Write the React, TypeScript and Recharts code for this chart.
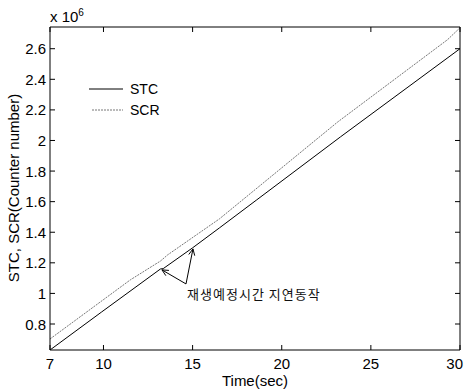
import React from 'react';
import { LineChart, Line, XAxis, YAxis, ReferenceLine, ReferenceDot } from 'recharts';

// ---- data (counter numbers vs. time in seconds) ----
const stcTime = [7, 9.9, 13.2, 13.35, 15.0, 16.5, 18.6, 23.3, 30];
const stcCount = [630000, 879000, 1160000, 1162000, 1298000, 1428000, 1612000, 2024000, 2600000];
const scrTime = [7, 11.5, 13.2, 13.6, 16.5, 23.15, 29.3, 30];
const scrCount = [702000, 1088000, 1212000, 1252000, 1487000, 2122000, 2659000, 2737000];

const xTicks = [7, 10, 15, 20, 25, 30];
const yTicks = [800000, 1000000, 1200000, 1400000, 1600000, 1800000, 2000000, 2200000, 2400000, 2600000];
const xDomain = [7, 30];
const yDomain = [630000, 2742000];

const seriesNames = ['STC', 'SCR'];
const xLabel = 'Time(sec)';
const yLabel = 'STC, SCR(Counter number)';
const annotationText = '재생예정시간 지연동작';
const annotationAnchor = { t: 14.69, v: 963000 };
const arrowFrom = { t: 14.63, v: 1062000 };
const arrowTips = [
  { t: 13.28, v: 1154000 },
  { t: 15.02, v: 1291000 },
];

const stcData = stcTime.map((t, i) => ({ t, v: stcCount[i] }));
const scrData = scrTime.map((t, i) => ({ t, v: scrCount[i] }));

const FONT = '"Liberation Sans", Arial, Helvetica, sans-serif';
const W = 464;
const H = 392;

const fmtY = (v: number) => String(Number((v / 1e6).toFixed(1)));

const BottomTick = (props: any) => {
  const { x, y, payload, index } = props;
  const axisY = y;
  const last = index === xTicks.length - 1;
  return (
    <g>
      <line x1={x} y1={axisY} x2={x} y2={axisY - 5} stroke="#000" strokeWidth={1} />
      <text
        x={last ? x + 3 : x}
        y={axisY + 19}
        textAnchor={last ? 'end' : 'middle'}
        fontSize={15}
        fontFamily={FONT}
        fill="#000"
      >
        {payload.value}
      </text>
    </g>
  );
};

const TopTick = (props: any) => {
  const { x, y } = props;
  return <line x1={x} y1={y} x2={x} y2={y + 5} stroke="#000" strokeWidth={1} />;
};

const LeftTick = (props: any) => {
  const { x, y, payload } = props;
  return (
    <g>
      <line x1={x} y1={y} x2={x + 5} y2={y} stroke="#000" strokeWidth={1} />
      <text x={x - 4} y={y + 5.5} textAnchor="end" fontSize={15} fontFamily={FONT} fill="#000">
        {fmtY(payload.value)}
      </text>
    </g>
  );
};

const RightTick = (props: any) => {
  const { x, y } = props;
  return <line x1={x} y1={y} x2={x - 5} y2={y} stroke="#000" strokeWidth={1} />;
};

const ArrowShape = (props: any) => {
  const { x1, y1, x2, y2 } = props;
  const ang = Math.atan2(y2 - y1, x2 - x1);
  const len = 7;
  const spread = 0.45;
  const ax = x2 - len * Math.cos(ang - spread);
  const ay = y2 - len * Math.sin(ang - spread);
  const bx = x2 - len * Math.cos(ang + spread);
  const by = y2 - len * Math.sin(ang + spread);
  return (
    <g>
      <line x1={x1} y1={y1} x2={x2} y2={y2} stroke="#000" strokeWidth={1} />
      <polyline points={`${ax},${ay} ${x2},${y2} ${bx},${by}`} fill="none" stroke="#000" strokeWidth={1} />
    </g>
  );
};

const AnnotationText = (props: any) => {
  const { cx, cy } = props;
  return (
    <text
      x={cx}
      y={cy}
      fontSize={13}
      letterSpacing={1}
      fontFamily={'"Noto Sans CJK KR", sans-serif'}
      fill="#111"
    >
      {annotationText}
    </text>
  );
};

export default function App() {
  return (
    <div style={{ position: 'absolute', left: 0, top: 0, width: W, height: H, background: '#fff' }}>
      <LineChart width={W} height={H} data={stcData} margin={{ top: 26, right: 3, bottom: 0, left: 0 }}>
        <XAxis
          xAxisId="b"
          dataKey="t"
          type="number"
          domain={xDomain}
          ticks={xTicks}
          interval={0}
          allowDataOverflow
          height={42}
          tickSize={0}
          tickMargin={0}
          tickLine={false}
          tick={<BottomTick />}
          axisLine={{ stroke: '#000', strokeWidth: 1 }}
        />
        <XAxis
          xAxisId="t"
          orientation="top"
          dataKey="t"
          type="number"
          domain={xDomain}
          ticks={xTicks}
          interval={0}
          allowDataOverflow
          height={1}
          tickSize={0}
          tickMargin={0}
          tickLine={false}
          tick={<TopTick />}
          axisLine={{ stroke: '#000', strokeWidth: 1 }}
        />
        <YAxis
          yAxisId="l"
          type="number"
          domain={yDomain}
          ticks={yTicks}
          interval={0}
          allowDataOverflow
          width={50}
          tickSize={0}
          tickMargin={0}
          tickLine={false}
          tick={<LeftTick />}
          axisLine={{ stroke: '#000', strokeWidth: 1 }}
        />
        <YAxis
          yAxisId="r"
          orientation="right"
          type="number"
          domain={yDomain}
          ticks={yTicks}
          interval={0}
          allowDataOverflow
          width={1}
          tickSize={0}
          tickMargin={0}
          tickLine={false}
          tick={<RightTick />}
          axisLine={{ stroke: '#000', strokeWidth: 1 }}
        />
        <Line
          xAxisId="b"
          yAxisId="l"
          data={stcData}
          dataKey="v"
          name={seriesNames[0]}
          stroke="#000"
          strokeWidth={1}
          dot={false}
          isAnimationActive={false}
        />
        <Line
          xAxisId="b"
          yAxisId="l"
          data={scrData}
          dataKey="v"
          name={seriesNames[1]}
          stroke="#777"
          strokeWidth={1}
          strokeDasharray="2 1"
          dot={false}
          isAnimationActive={false}
        />
        {arrowTips.map((tip, i) => (
          <ReferenceLine
            key={i}
            xAxisId="b"
            yAxisId="l"
            segment={[
              { x: arrowFrom.t, y: arrowFrom.v },
              { x: tip.t, y: tip.v },
            ]}
            ifOverflow="visible"
            shape={ArrowShape}
          />
        ))}
        <ReferenceDot
          xAxisId="b"
          yAxisId="l"
          x={annotationAnchor.t}
          y={annotationAnchor.v}
          r={0}
          ifOverflow="visible"
          shape={AnnotationText}
        />
      </LineChart>

      {/* axis titles and exponent */}
      <div
        style={{
          position: 'absolute',
          left: 50,
          width: 410,
          top: 372,
          textAlign: 'center',
          fontFamily: FONT,
          fontSize: 15,
          lineHeight: '18px',
          color: '#000',
        }}
      >
        {xLabel}
      </div>
      <div
        style={{
          position: 'absolute',
          left: 14 - 150,
          top: 188 - 9,
          width: 300,
          textAlign: 'center',
          transform: 'rotate(-90deg)',
          fontFamily: FONT,
          fontSize: 15,
          lineHeight: '18px',
          color: '#000',
        }}
      >
        {yLabel}
      </div>
      <div
        style={{
          position: 'absolute',
          left: 50,
          top: 8,
          fontFamily: FONT,
          fontSize: 15,
          lineHeight: '18px',
          color: '#000',
          whiteSpace: 'nowrap',
        }}
      >
        x 10<sup style={{ fontSize: 10, verticalAlign: 'top', position: 'relative', top: -4 }}>6</sup>
      </div>

      {/* legend */}
      <div style={{ position: 'absolute', left: 89, top: 78, fontFamily: FONT, fontSize: 14, color: '#000' }}>
        {seriesNames.map((name, i) => (
          <div key={name} style={{ display: 'flex', alignItems: 'center', height: 21 }}>
            <svg width={34} height={4} style={{ display: 'block' }}>
              <line
                x1={i === 0 ? 0 : 3}
                y1={2}
                x2={34}
                y2={2}
                stroke={i === 0 ? '#000' : '#777'}
                strokeWidth={1}
                strokeDasharray={i === 0 ? undefined : '2 1'}
              />
            </svg>
            <span style={{ marginLeft: 7, lineHeight: '16px' }}>{name}</span>
          </div>
        ))}
      </div>
    </div>
  );
}
